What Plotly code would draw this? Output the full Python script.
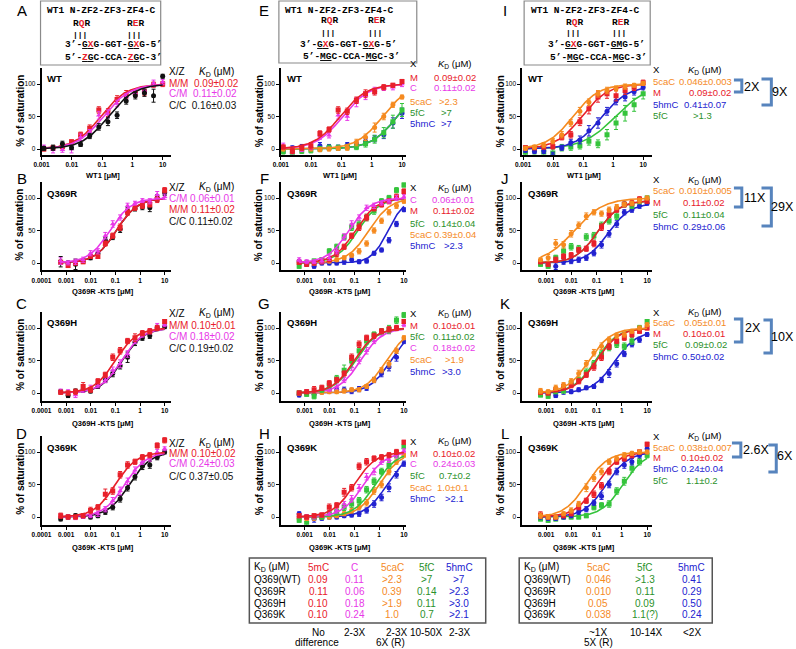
import numpy as np
import plotly.graph_objects as go

W, H = 796, 649

# ---------------- data ----------------
conc_wt = [0.0012, 0.0024, 0.0049, 0.0098, 0.0195, 0.039, 0.078, 0.156, 0.3125, 0.625, 1.25, 2.5, 5, 10]
conc_mut = [0.0006, 0.0012, 0.0024, 0.0049, 0.0098, 0.0195, 0.039, 0.078, 0.156, 0.3125, 0.625, 1.25, 2.5, 5, 10]

# Panel A (WT, X/Z)
A_mm = [0, 2, 4, 11, 22, 32, 60, 56, 76, 84, 86, 88, 99, 100]
A_mm_err = [3, 3, 4, 3, 4, 5, 5, 6, 6, 6, 5, 6, 4, 4]
A_cm = [3, -1, -1, 0, 18, 26, 52, 54, 70, 80, 86, 90, 101, 103]
A_cm_err = [3, 5, 4, 6, 5, 4, 6, 6, 5, 5, 4, 5, 5, 4]
A_cc = [1, 2, 8, 2, 7, 20, 34, 42, 52, 74, 82, 86, 82, 112]
A_cc_err = [3, 4, 4, 3, 3, 4, 5, 6, 5, 5, 5, 5, 10, 3]
A_kd = [0.09, 0.11, 0.16]

# Panel B (Q369R, X/Z)
B_cm = [3, 0, 2, 5, 15, 18, 42, 60, 70, 88, 92, 96, 95, 105, 102]
B_cm_err = [5, 3, 4, 4, 4, 4, 5, 5, 4, 4, 3, 3, 4, 5, 4]
B_mm = [1, -4, 0, 2, 10, 10, 30, 42, 55, 78, 85, 88, 90, 98, 112]
B_mm_err = [3, 3, 3, 3, 3, 3, 4, 4, 5, 5, 4, 4, 4, 5, 4]
B_cc = [2, 0, -2, 3, 8, 15, 35, 40, 52, 80, 84, 86, 85, 100, 108]
B_cc_err = [8, 3, 8, 3, 3, 3, 4, 4, 5, 5, 4, 4, 6, 5, 4]
B_kd = [0.06, 0.11, 0.11]

# Panel C (Q369H, X/Z)
C_mm = [1, 0, 2, 10, 5, 18, 28, 55, 65, 80, 85, 92, 95, 100, 110]
C_mm_err = [3, 3, 4, 6, 4, 4, 4, 5, 5, 4, 6, 4, 4, 4, 3]
C_cm = [3, 2, -3, 5, 8, 12, 20, 35, 45, 60, 80, 90, 95, 103, 105]
C_cm_err = [3, 3, 4, 4, 4, 4, 4, 5, 6, 5, 4, 4, 4, 4, 3]
C_cc = [2, -4, 3, 5, 3, 10, 20, 30, 42, 55, 78, 85, 88, 100, 102]
C_cc_err = [3, 3, 3, 4, 3, 3, 4, 5, 5, 8, 5, 4, 4, 4, 3]
C_kd = [0.10, 0.18, 0.19]

# Panel D (Q369K, X/Z)
D_mm = [2, 0, 0, 2, 10, 15, 35, 40, 65, 80, 85, 92, 95, 110, 118]
D_mm_err = [4, 3, 3, 3, 5, 4, 8, 5, 5, 5, 4, 4, 4, 4, 4]
D_cm = [2, 0, -1, 1, 2, 5, 12, 25, 40, 55, 72, 85, 90, 100, 105]
D_cm_err = [3, 3, 3, 3, 3, 4, 4, 5, 6, 5, 5, 4, 4, 4, 3]
D_cc = [-3, 0, 2, 1, 0, 2, 8, 15, 28, 45, 62, 78, 80, 92, 100]
D_cc_err = [3, 3, 3, 3, 3, 3, 4, 4, 5, 5, 5, 5, 5, 4, 3]
D_kd = [0.10, 0.24, 0.37]

# Panel E (WT, X)
E_m = [3, -3, 2, 5, 24, 30, 60, 58, 75, 85, 88, 95, 98, 104]
E_m_err = [3, 4, 4, 5, 4, 4, 5, 5, 5, 6, 5, 4, 3, 3]
E_c = [5, -5, 0, 3, 20, 21, 52, 50, 72, 82, 90, 94, 95, 100]
E_c_err = [4, 5, 4, 4, 5, 4, 6, 6, 7, 6, 5, 4, 4, 4]
E_ca = [0, -1, 0, 0, -1, 0, 1, 2, 10, 18, 33, 50, 68, 80]
E_ca_err = [3, 3, 3, 3, 3, 3, 3, 4, 5, 5, 7, 5, 4, 3]
E_f = [-4, -6, -3, -2, 0, 2, 2, 3, 3, 8, 15, 25, 42, 60]
E_f_err = [4, 5, 4, 4, 4, 4, 4, 4, 4, 5, 6, 8, 10, 10]
E_h = [-3, 1, 3, 2, 5, 3, 2, 6, 8, 12, 16, 22, 40, 55]
E_h_err = [3, 4, 4, 4, 5, 4, 4, 4, 4, 4, 5, 6, 8, 8]
E_kd = [0.09, 0.11, 2.3, 7.0, 7.0]

# Panel F (Q369R, X)
F_c = [5, 2, 2, 3, 8, 18, 40, 60, 70, 85, 88, 92, 95, 100, 102]
F_c_err = [3, 3, 3, 3, 4, 4, 5, 5, 4, 4, 4, 3, 3, 4, 3]
F_m = [1, -2, 0, 2, 5, 15, 25, 42, 55, 70, 84, 90, 95, 102, 110]
F_m_err = [3, 3, 3, 3, 3, 5, 4, 4, 5, 5, 4, 4, 4, 4, 4]
F_f = [-5, 0, 3, 5, 18, 25, 40, 55, 60, 70, 80, 95, 100, 112, 120]
F_f_err = [3, 3, 3, 3, 4, 4, 4, 5, 5, 5, 5, 4, 4, 4, 3]
F_ca = [0, 0, 0, 2, 3, 5, 8, 12, 18, 30, 50, 65, 78, 88, 95]
F_ca_err = [3, 3, 3, 3, 3, 3, 3, 3, 4, 4, 4, 4, 4, 4, 3]
F_h = [2, -2, -5, 0, 0, 0, 2, 5, 2, 3, 15, 20, 35, 60, 82]
F_h_err = [3, 3, 3, 3, 3, 3, 4, 4, 3, 3, 3, 3, 4, 4, 3]
F_kd = [0.06, 0.11, 0.14, 0.39, 2.3]

# Panel G (Q369H, X)
G_m = [0, 2, 5, 8, 15, 20, 30, 55, 75, 85, 88, 95, 98, 100, 110]
G_m_err = [3, 3, 5, 4, 4, 4, 4, 5, 5, 4, 4, 4, 4, 4, 3]
G_f = [0, -2, -5, 5, 12, 22, 35, 50, 65, 80, 90, 95, 98, 112, 120]
G_f_err = [3, 3, 4, 4, 4, 5, 8, 5, 5, 5, 4, 4, 6, 5, 4]
G_c = [0, 2, 0, 5, 5, 10, 20, 40, 50, 65, 80, 92, 95, 100, 105]
G_c_err = [3, 3, 3, 3, 3, 4, 4, 5, 5, 5, 4, 4, 4, 4, 3]
G_ca = [0, 0, 0, 1, 2, 2, 3, 5, 5, 10, 20, 35, 45, 65, 85]
G_ca_err = [3, 3, 3, 3, 3, 3, 3, 3, 3, 3, 4, 4, 5, 4, 3]
G_h = [-3, 0, -2, 2, 5, 5, 5, 3, 6, 8, 20, 30, 40, 55, 80]
G_h_err = [3, 3, 3, 3, 4, 4, 4, 4, 4, 4, 4, 5, 6, 6, 4]
G_kd = [0.10, 0.11, 0.18, 2.0, 3.0]

# Panel H (Q369K, X)
H_m = [2, 0, 2, 3, 15, 18, 38, 45, 78, 85, 90, 92, 95, 100, 115]
H_m_err = [3, 3, 3, 3, 5, 4, 6, 5, 5, 5, 4, 4, 4, 4, 3]
H_c = [2, 0, 0, 3, 5, 10, 20, 28, 45, 62, 70, 85, 88, 95, 102]
H_c_err = [3, 3, 3, 3, 3, 4, 4, 5, 5, 5, 5, 4, 4, 4, 3]
H_f = [-5, -10, 0, 0, 5, 8, 15, 20, 25, 42, 55, 70, 80, 95, 108]
H_f_err = [3, 3, 3, 3, 4, 4, 5, 5, 5, 5, 5, 5, 5, 4, 3]
H_ca = [-3, -3, -2, 0, 0, 2, 5, 10, 15, 22, 40, 50, 70, 85, 95]
H_ca_err = [3, 3, 3, 3, 3, 3, 3, 4, 4, 5, 5, 5, 5, 4, 3]
H_h = [5, 0, -3, -2, 0, 0, 2, 3, 5, 10, 20, 30, 45, 65, 82]
H_h_err = [3, 3, 5, 3, 3, 3, 3, 3, 4, 4, 5, 5, 6, 5, 4]
H_kd = [0.10, 0.24, 0.7, 1.0, 2.1]

# Panel I (WT, X; GMG strand)
I_ca = [1, 3, 6, 12, 22, 40, 58, 72, 85, 90, 93, 96, 98, 101]
I_ca_err = [3, 3, 4, 4, 5, 5, 6, 5, 5, 5, 4, 4, 3, 3]
I_m = [2, 2, 3, 4, 18, 22, 42, 62, 80, 85, 82, 90, 95, 102]
I_m_err = [3, 3, 3, 4, 4, 5, 6, 8, 8, 7, 8, 6, 5, 4]
I_h = [-2, -4, -3, -10, 2, 10, 14, 28, 40, 58, 74, 80, 88, 95]
I_h_err = [3, 3, 4, 5, 4, 5, 6, 8, 8, 6, 6, 6, 5, 4]
I_f = [-6, -2, -5, -6, 2, 3, 5, 12, 8, 22, 40, 55, 68, 85]
I_f_err = [4, 6, 5, 6, 5, 5, 5, 6, 6, 8, 10, 12, 10, 8]
I_kd = [0.046, 0.09, 0.41, 1.2]

# Panel J (Q369R, X; GMG strand)
J_ca = [5, 8, 30, 28, 45, 58, 72, 78, 76, 82, 86, 90, 92, 96, 100]
J_ca_err = [3, 5, 6, 5, 5, 5, 5, 4, 4, 4, 4, 3, 3, 4, 3]
J_m = [2, -2, 5, 10, 12, 20, 22, 30, 55, 75, 82, 90, 92, 98, 95]
J_m_err = [3, 3, 4, 4, 4, 4, 4, 5, 5, 5, 4, 4, 4, 4, 3]
J_f = [-2, -5, 8, 18, 25, 22, 40, 42, 58, 65, 72, 90, 88, 95, 100]
J_f_err = [3, 3, 4, 5, 5, 5, 5, 5, 5, 5, 5, 4, 4, 4, 3]
J_h = [0, -3, -5, 2, 3, 5, 8, 15, 28, 45, 60, 78, 82, 88, 92]
J_h_err = [3, 3, 5, 4, 4, 4, 4, 4, 5, 5, 5, 4, 4, 4, 3]
J_kd = [0.013, 0.11, 0.11, 0.29]

# Panel K (Q369H, X; GMG strand)
K_ca = [3, 2, 8, 12, 18, 30, 45, 62, 72, 82, 88, 90, 95, 100, 105]
K_ca_err = [4, 3, 4, 4, 4, 5, 5, 5, 5, 4, 4, 4, 3, 3, 3]
K_m = [1, 0, 5, 10, 12, 18, 28, 40, 55, 72, 80, 85, 90, 95, 100]
K_m_err = [3, 3, 3, 4, 4, 4, 4, 5, 5, 5, 4, 4, 4, 3, 3]
K_f = [-3, -5, 2, 3, 15, 20, 32, 45, 60, 70, 75, 72, 80, 100, 110]
K_f_err = [3, 3, 3, 3, 4, 4, 5, 5, 5, 5, 5, 5, 5, 4, 3]
K_h = [0, -2, -4, 3, 2, 5, 8, 10, 20, 30, 45, 60, 75, 82, 90]
K_h_err = [3, 3, 3, 5, 3, 3, 3, 3, 4, 6, 5, 4, 4, 4, 3]
K_kd = [0.05, 0.10, 0.09, 0.50]

# Panel L (Q369K, X; GMG strand)
L_ca = [2, 0, 0, 5, 10, 20, 45, 60, 70, 85, 90, 95, 98, 100, 100]
L_ca_err = [4, 3, 3, 3, 4, 4, 6, 5, 5, 4, 4, 4, 3, 3, 3]
L_m = [3, 0, 0, 2, 5, 15, 25, 35, 48, 70, 85, 90, 95, 100, 112]
L_m_err = [5, 3, 3, 3, 3, 4, 4, 5, 5, 5, 4, 4, 4, 3, 3]
L_h = [0, -2, -2, 0, 2, 8, 12, 22, 32, 50, 70, 80, 85, 95, 105]
L_h_err = [3, 3, 3, 3, 3, 4, 4, 4, 5, 5, 5, 5, 5, 4, 3]
L_f = [-3, -5, -3, 0, 0, 0, 2, 15, 18, 20, 40, 55, 75, 85, 95]
L_f_err = [3, 3, 3, 3, 3, 3, 3, 4, 4, 5, 5, 6, 6, 5, 4]
L_kd = [0.038, 0.10, 0.24, 1.1]

# summary tables
tab1_rows = ["K_D (μM)", "Q369(WT)", "Q369R", "Q369H", "Q369K"]
tab1_cols = ["5mC", "C", "5caC", "5fC", "5hmC"]
tab1_vals = [["0.09", "0.11", "0.10", "0.10"],
             ["0.11", "0.06", "0.18", "0.24"],
             [">2.3", "0.39", ">1.9", "1.0"],
             [">7", "0.14", "0.11", "0.7"],
             [">7", ">2.3", ">3.0", ">2.1"]]
tab2_cols = ["5caC", "5fC", "5hmC"]
tab2_vals = [["0.046", "0.010", "0.05", "0.038"],
             [">1.3", "0.11", "0.09", "1.1(?)"],
             ["0.41", "0.29", "0.50", "0.24"]]

# ---------------- styling ----------------
RED = "#e8202a"; MAG = "#e838e8"; BLK = "#111111"; ORA = "#f58a1f"
GRN = "#35c43c"; GRN_T = "#2b912b"; BLU = "#2222d0"; BRK = "#5784bd"
STY = {"M": (RED, "square"), "C": (MAG, "triangle-up"), "CC": (BLK, "circle"),
       "ca": (ORA, "circle"), "f": (GRN, "square"), "h": (BLU, "circle")}
TCOL = {"M": RED, "C": MAG, "5caC": ORA, "5fC": GRN_T, "5hmC": BLU}
SANS = "Liberation Sans"
MONO = "Liberation Mono"

col_x = [(32, 163), (275, 402), (520, 652)]
row_y0 = [149, 263, 393, 517]
row_lo = [-9, -11, -12, -12]
PXU = 0.65
YTOP = 125
xr = {(0, 0): [-3, 1.26], (0, 1): [-3, 1.13], (0, 2): [-3.03, 1.30]}
for r in (1, 2, 3):
    xr[(r, 0)] = [-4, 1.24]
    xr[(r, 1)] = [-3.96, 1.08]
    xr[(r, 2)] = [-3.95, 1.2]

# panel: (row, col, conc, series list (key, y, err, kd, hill, top))
panels = [
    (0, 0, conc_wt, [("M", A_mm, A_mm_err, A_kd[0], 1, 100), ("C", A_cm, A_cm_err, A_kd[1], 1, 100),
                     ("CC", A_cc, A_cc_err, A_kd[2], 1, 100)]),
    (1, 0, conc_mut, [("CC", B_cc, B_cc_err, B_kd[2], 1, 100), ("M", B_mm, B_mm_err, B_kd[1], 1, 100),
                      ("C", B_cm, B_cm_err, B_kd[0], 1, 100)]),
    (2, 0, conc_mut, [("CC", C_cc, C_cc_err, C_kd[2], 1, 100), ("C", C_cm, C_cm_err, C_kd[1], 1, 100),
                      ("M", C_mm, C_mm_err, C_kd[0], 1, 100)]),
    (3, 0, conc_mut, [("CC", D_cc, D_cc_err, D_kd[2], 1, 100), ("C", D_cm, D_cm_err, D_kd[1], 1, 100),
                      ("M", D_mm, D_mm_err, D_kd[0], 1, 100)]),
    (0, 1, conc_wt, [("h", E_h, E_h_err, E_kd[4], 1, 100), ("f", E_f, E_f_err, E_kd[3], 1, 100),
                     ("ca", E_ca, E_ca_err, E_kd[2], 1, 100), ("C", E_c, E_c_err, E_kd[1], 1, 100),
                     ("M", E_m, E_m_err, E_kd[0], 1, 100)]),
    (1, 1, conc_mut, [("h", F_h, F_h_err, F_kd[4], 1.3, 100), ("ca", F_ca, F_ca_err, F_kd[3], 1, 100),
                      ("f", F_f, F_f_err, F_kd[2], 1, 100), ("M", F_m, F_m_err, F_kd[1], 1, 100),
                      ("C", F_c, F_c_err, F_kd[0], 1, 100)]),
    (2, 1, conc_mut, [("h", G_h, G_h_err, G_kd[4], 1, 100), ("ca", G_ca, G_ca_err, G_kd[3], 1, 100),
                      ("C", G_c, G_c_err, G_kd[2], 1, 100), ("f", G_f, G_f_err, G_kd[1], 1, 100),
                      ("M", G_m, G_m_err, G_kd[0], 1, 100)]),
    (3, 1, conc_mut, [("h", H_h, H_h_err, H_kd[4], 1, 100), ("ca", H_ca, H_ca_err, H_kd[3], 1, 100),
                      ("f", H_f, H_f_err, H_kd[2], 1, 100), ("C", H_c, H_c_err, H_kd[1], 1, 100),
                      ("M", H_m, H_m_err, H_kd[0], 1, 100)]),
    (0, 2, conc_wt, [("f", I_f, I_f_err, I_kd[3], 0.8, 100), ("h", I_h, I_h_err, I_kd[2], 1, 97),
                     ("M", I_m, I_m_err, I_kd[1], 1, 100), ("ca", I_ca, I_ca_err, I_kd[0], 1, 100)]),
    (1, 2, conc_mut, [("h", J_h, J_h_err, J_kd[3], 1, 92), ("f", J_f, J_f_err, J_kd[2], 1, 96),
                      ("M", J_m, J_m_err, J_kd[1], 1, 96), ("ca", J_ca, J_ca_err, J_kd[0], 0.75, 100)]),
    (2, 2, conc_mut, [("h", K_h, K_h_err, K_kd[3], 1, 95), ("f", K_f, K_f_err, K_kd[2], 1, 100),
                      ("M", K_m, K_m_err, K_kd[1], 1, 100), ("ca", K_ca, K_ca_err, K_kd[0], 1, 100)]),
    (3, 2, conc_mut, [("f", L_f, L_f_err, L_kd[3], 1, 100), ("h", L_h, L_h_err, L_kd[2], 1, 100),
                      ("M", L_m, L_m_err, L_kd[1], 1, 100), ("ca", L_ca, L_ca_err, L_kd[0], 1, 100)]),
]

fig = go.Figure()
layout = dict(width=W, height=H, margin=dict(l=0, r=0, t=0, b=0), autosize=False,
              paper_bgcolor="white", plot_bgcolor="white", showlegend=False,
              font=dict(family=SANS, color="black"))

for i, (r, c, conc, series) in enumerate(panels, start=1):
    xa = "x" if i == 1 else f"x{i}"
    ya = "y" if i == 1 else f"y{i}"
    x0, x1 = col_x[c]
    y0 = row_y0[r]
    ytop_px = y0 - YTOP * PXU
    ybot_px = y0 - row_lo[r] * PXU
    if r == 0:
        tv = [0.001, 0.01, 0.1, 1, 10]
        tt = ["0.001", "0.01", "0.1", "1", "10"]
    else:
        tv = [0.0001, 0.001, 0.01, 0.1, 1, 10]
        tt = ["0.0001", "0.001", "0.01", "0.1", "1", "10"]
    layout["xaxis" if i == 1 else f"xaxis{i}"] = dict(
        type="log", range=xr[(r, c)], domain=[x0 / W, x1 / W], anchor=ya,
        showline=True, linecolor="black", linewidth=1.5, ticks="outside", ticklen=3,
        tickwidth=1, tickcolor="black", tickvals=tv, ticktext=["<b>%s</b>" % t for t in tt],
        tickfont=dict(size=6.5, family=SANS, color="black"), showgrid=False, zeroline=False)
    layout["yaxis" if i == 1 else f"yaxis{i}"] = dict(
        range=[row_lo[r], YTOP], domain=[1 - ybot_px / H, 1 - ytop_px / H], anchor=xa,
        showline=True, linecolor="black", linewidth=1.5, ticks="outside", ticklen=3,
        tickwidth=1, tickcolor="black", tickvals=[0, 50, 100], ticktext=["0", "50", "100"],
        tickfont=dict(size=6.5, family=SANS, color="black"), showgrid=False, zeroline=False)
    lx0, lx1 = np.log10(min(conc)), np.log10(max(conc))
    xf = np.logspace(lx0, lx1, 150)
    for key, yv, ev, kd, hn, top in series:
        col, sym = STY[key]
        yf = top * xf ** hn / (kd ** hn + xf ** hn)
        fig.add_trace(go.Scatter(x=xf, y=yf, mode="lines", line=dict(color=col, width=1.6),
                                 xaxis=xa, yaxis=ya, hoverinfo="skip"))
        fig.add_trace(go.Scatter(x=conc, y=yv, mode="markers",
                                 marker=dict(color=col, symbol=sym, size=5),
                                 error_y=dict(type="data", array=ev, visible=True, color=col,
                                              thickness=1, width=2),
                                 xaxis=xa, yaxis=ya))

ann = []


def T(text, x, y, size=10, color="black", xa="left", family=SANS, angle=0, ya="middle"):
    ann.append(dict(text=text, x=x / W, y=1 - y / H, xref="paper", yref="paper", showarrow=False,
                    xanchor=xa, yanchor=ya, textangle=angle, borderpad=0,
                    font=dict(size=size, color=color, family=family)))


def kd_label(size, italic=True):
    k = '<span style="font-style:%s;font-size:%gpx">K</span>' % ("italic" if italic else "normal", size)
    d = '<sub style="font-size:%gpx">D</sub>' % (round(size * 0.7, 1))
    return k + d + '<span style="font-size:%gpx"> (μM)</span>' % size


# panel letters
letters = ["A", "B", "C", "D", "E", "F", "G", "H", "I", "J", "K", "L"]
letter_x = [12, 258, 503]
letter_y = [10, 178, 303, 433]
for k, L in enumerate(letters):
    T(L, letter_x[k // 4], letter_y[k % 4], size=15, xa="center")

# in-plot labels, axis titles
row_names = ["WT", "Q369R", "Q369H", "Q369K"]
xtitles = ["WT1 [μM]", "Q369R -KTS [μM]", "Q369H -KTS [μM]", "Q369K -KTS [μM]"]
ytitle_x = [10, 253, 498]
xtitle_y = [175, 292, 423, 547]
for r in range(4):
    for c in range(3):
        x0, x1 = col_x[c]
        T("<b>%s</b>" % row_names[r], x0 + 5, row_y0[r] - 70, size=9.5)
        T("<b>% of saturation</b>", ytitle_x[c], row_y0[r] - 38, size=10, xa="center", angle=-90)
        T("<b>%s</b>" % xtitles[r], (x0 + x1) / 2 - 3, xtitle_y[r], size=7.5, xa="center")

# column 1 legends
leg1 = [
    (72, [("M/M  0.09±0.02", RED, 83), ("C/M  0.11±0.02", MAG, 94), ("C/C  0.16±0.03", BLK, 106)]),
    (187, [("C/M 0.06±0.01", MAG, 198), ("M/M 0.11±0.02", RED, 209), ("C/C 0.11±0.02", BLK, 221)]),
    (313, [("M/M 0.10±0.01", RED, 325), ("C/M 0.18±0.02", MAG, 336), ("C/C 0.19±0.02", BLK, 348)]),
    (443, [("M/M 0.10±0.02", RED, 453), ("C/M 0.24±0.03", MAG, 464), ("C/C 0.37±0.05", BLK, 476)]),
]
for hy, rows in leg1:
    T("X/Z", 160, hy)
    T(kd_label(10), 191, hy, size=10)
    for txt, col, yy in rows:
        T(txt, 160, yy, color=col)

LS = 9.5
# column 2 legends
leg2 = [
    (64, [("M", "0.09±0.02", 77, 452), ("C", "0.11±0.02", 88, 452), ("5caC", ">2.3", 101, 445),
          ("5fC", ">7", 112, 443), ("5hmC", ">7", 123, 443)]),
    (188, [("C", "0.06±0.01", 199, 450), ("M", "0.11±0.02", 210, 451), ("5fC", "0.14±0.04", 223, 451),
           ("5caC", "0.39±0.04", 234, 452), ("5hmC", ">2.3", 245, 450)]),
    (313, [("M", "0.10±0.01", 325, 451), ("5fC", "0.11±0.02", 336, 451), ("C", "0.18±0.02", 347, 451),
           ("5caC", ">1.9", 359, 451), ("5hmC", ">3.0", 371, 448)]),
    (441, [("M", "0.10±0.02", 453, 451), ("C", "0.24±0.03", 463, 451), ("5fC", "0.7±0.2", 475, 452),
           ("5caC", "1.0±0.1", 487, 450), ("5hmC", ">2.1", 498, 451)]),
]
for hy, rows in leg2:
    T("X", 405, hy, size=LS)
    T(kd_label(LS), 452, hy, xa="center", size=LS)
    for lab, val, yy, vx in rows:
        T(lab, 405, yy, color=TCOL[lab], size=LS)
        T(val, vx, yy, color=TCOL[lab], xa="center", size=LS)

# column 3 legends
leg3 = [
    (70, [("5caC", "0.046±0.003", 81, 706), ("M", "0.09±0.02", 92, 711), ("5hmC", "0.41±0.07", 104, 706),
          ("5fC", ">1.3", 116, 703)]),
    (180, [("5caC", "0.010±0.005", 190, 706), ("M", "0.11±0.02", 202, 705), ("5fC", "0.11±0.04", 214, 705),
           ("5hmC", "0.29±0.06", 226, 705)]),
    (312, [("5caC", "0.05±0.01", 322, 706), ("M", "0.10±0.01", 333, 705), ("5fC", "0.09±0.02", 344, 707),
           ("5hmC", "0.50±0.02", 356, 704)]),
    (436, [("5caC", "0.038±0.007", 447, 706), ("M", "0.10±0.02", 457, 703), ("5hmC", "0.24±0.04", 468, 703),
           ("5fC", "1.1±0.2", 480, 703)]),
]
for hy, rows in leg3:
    T("X", 652, hy, size=LS)
    T(kd_label(LS), 706, hy, xa="center", size=LS)
    for lab, val, yy, vx in rows:
        T(lab, 652, yy, color=TCOL[lab], size=LS)
        T(val, vx, yy, color=TCOL[lab], xa="center", size=LS)

shapes = []


def bracket(xl, xr_, yt, yb):
    shapes.append(dict(type="path", xref="paper", yref="paper",
                       path="M %f,%f L %f,%f L %f,%f L %f,%f" % (
                           xl / W, 1 - yt / H, xr_ / W, 1 - yt / H, xr_ / W, 1 - yb / H, xl / W, 1 - yb / H),
                       line=dict(color=BRK, width=3)))


brackets = [
    ((735, 743, 80, 92), ("2X", 753, 87), (763, 773, 79, 105), ("9X", 782, 92)),
    ((735, 743, 188, 207), ("11X", 756, 198), (763, 773, 188, 226), ("29X", 784, 207)),
    ((735, 743, 319, 342), ("2X", 754, 328), (765, 773, 320, 353), ("10X", 784, 337)),
    ((733, 742, 443, 457), ("2.6X", 757, 450), (770, 778, 445, 472), ("6X", 787, 456)),
]
for sb, st, bb, bt in brackets:
    bracket(*sb)
    bracket(*bb)
    T(st[0], st[1], st[2], size=12.5, xa="center")
    T(bt[0], bt[1], bt[2], size=12.5, xa="center")

# sequence boxes
MS = 9.5
red = lambda s: '<span style="color:%s;font-size:%gpx">%s</span>' % (RED, MS, s)
und = lambda s: '<span style="text-decoration:underline;font-size:%gpx">%s</span>' % (MS, s)


def rect(x0, y0, x1, y1, color, width):
    shapes.append(dict(type="rect", xref="paper", yref="paper", x0=x0 / W, x1=x1 / W,
                       y0=1 - y1 / H, y1=1 - y0 / H, line=dict(color=color, width=width),
                       fillcolor="rgba(0,0,0,0)"))


seq_boxes = [
    dict(box=(31, 1, 153, 65), l1=(37, 11), rqr=(63, 24), rer=(118, 24), bar_y=34,
         l4=(55, 45, "3’-" + und("G" + red("X")) + "G-GGT-" + und("G" + red("X")) + "G-5’"),
         l5=(55, 58, "5’-" + und(red("Z") + "G") + "C-CCA-" + und(red("Z") + "G") + "C-3’")),
    dict(box=(273, 1, 413, 63), l1=(278, 10), rqr=(315, 21), rer=(362, 21), bar_y=32,
         l4=(293, 44, "3’-" + und("G" + red("X")) + "G-GGT-" + und("G" + red("X")) + "G-5’"),
         l5=(296, 57, "5’-" + und("MG") + "C-CCA-" + und("MG") + "C-3’")),
    dict(box=(522, 1, 650, 65), l1=(528, 10), rqr=(563, 22), rer=(610, 22), bar_y=32,
         l4=(545, 44, "3’-" + und("G" + red("X")) + "G-GGT-" + und("GM") + "G-5’"),
         l5=(547, 58, "5’-" + und("MG") + "C-CCA-" + und("MG") + "C-3’")),
]
for sbx in seq_boxes:
    rect(*sbx["box"], "#8a8a8a", 1.2)
    T("<b>WT1 N-ZF2-ZF3-ZF4-C</b>", sbx["l1"][0], sbx["l1"][1], size=MS, family=MONO)
    T("<b>R" + red("Q") + "R</b>", sbx["rqr"][0], sbx["rqr"][1], size=MS, family=MONO)
    T("<b>R" + red("E") + "R</b>", sbx["rer"][0], sbx["rer"][1], size=MS, family=MONO)
    T("<b>|||</b>", sbx["rqr"][0], sbx["bar_y"], size=8, family=MONO)
    T("<b>|||</b>", sbx["rer"][0], sbx["bar_y"], size=8, family=MONO)
    T("<b>%s</b>" % sbx["l4"][2], sbx["l4"][0], sbx["l4"][1], size=MS, family=MONO)
    T("<b>%s</b>" % sbx["l5"][2], sbx["l5"][0], sbx["l5"][1], size=MS, family=MONO)

# tables
row_ys = [567, 579, 591, 603, 614]


def row_label(k):
    return kd_label(10, italic=False) if k == 0 else tab1_rows[k]


rect(243, 558, 483, 623, "#555555", 1.5)
for k in range(len(tab1_rows)):
    T(row_label(k), 247, row_ys[k], size=10)
t1x = [313, 350, 388, 423, 456]
t1c = [RED, MAG, ORA, GRN_T, BLU]
for j, h in enumerate(tab1_cols):
    T(h, t1x[j], row_ys[0], size=10, color=t1c[j], xa="center")
    for k, v in enumerate(tab1_vals[j]):
        T(v, t1x[j], row_ys[k + 1], size=10, color=t1c[j], xa="center")
for txt, x, y in [("No", 313, 632), ("difference", 312, 642), ("2-3X", 350, 632), ("2-3X", 392, 632),
                  ("6X (R)", 386, 642), ("10-50X", 423, 632), ("2-3X", 456, 632)]:
    T(txt, x, y, size=10, xa="center")

rect(517, 558, 713, 623, "#555555", 1.5)
for k in range(len(tab1_rows)):
    T(row_label(k), 521, row_ys[k], size=10)
t2x = [597, 645, 692]
t2c = [ORA, GRN_T, BLU]
for j, h in enumerate(tab2_cols):
    T(h, t2x[j], row_ys[0], size=10, color=t2c[j], xa="center")
    for k, v in enumerate(tab2_vals[j]):
        T(v, t2x[j], row_ys[k + 1], size=10, color=t2c[j], xa="center")
for txt, x, y in [("~1X", 597, 632), ("5X (R)", 597, 642), ("10-14X", 646, 632), ("<2X", 692, 632)]:
    T(txt, x, y, size=10, xa="center")

layout["annotations"] = ann
layout["shapes"] = shapes
fig.update_layout(**layout)
fig.write_html("out.html", config={"displayModeBar": False},
               post_script="document.body.style.margin='0px';")
